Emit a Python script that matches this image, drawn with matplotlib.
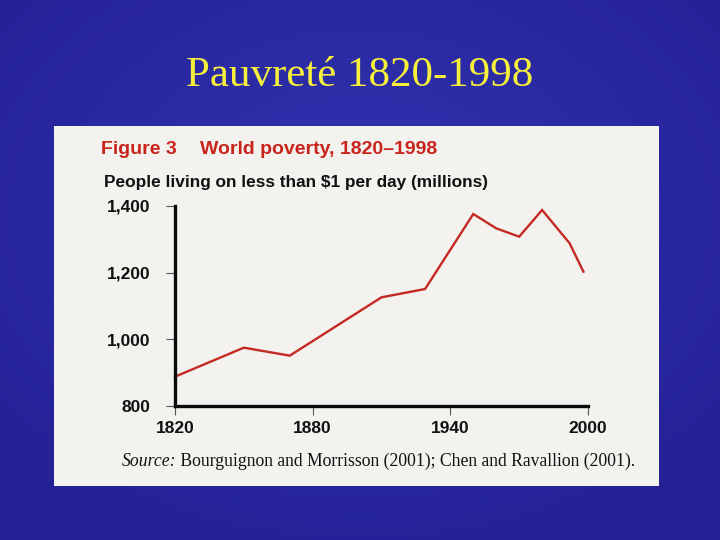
import numpy as np
import matplotlib
matplotlib.use("Agg")
import matplotlib.pyplot as plt
from matplotlib.patches import Rectangle

# ---- data ----
years = [1820, 1850, 1870, 1910, 1929, 1950, 1960, 1970, 1980, 1992, 1998]
poor_millions = [888, 975, 951, 1126, 1151, 1376, 1333, 1308, 1388, 1288, 1203]
x_ticks = [1820, 1880, 1940, 2000]
y_ticks = [800, 1000, 1200, 1400]
y_ticklabels = ["800", "1,000", "1,200", "1,400"]

slide_title = "Pauvreté 1820-1998"
fig_label = "Figure 3"
fig_title = "World poverty, 1820\u20131998"
subtitle = "People living on less than $1 per day (millions)"
source_lead = "Source:"
source_rest = " Bourguignon and Morrisson (2001); Chen and Ravallion (2001)."

W, H = 720, 540
fig = plt.figure(figsize=(7.2, 5.4), dpi=100)

# ---- slide background (soft radial gradient) ----
bg = fig.add_axes([0, 0, 1, 1])
yy, xx = np.mgrid[0:1:270j, 0:1:360j]
r = np.sqrt(((xx - 0.5) / 0.7) ** 2 + ((yy - 0.4) / 0.7) ** 2)
r = np.clip(r, 0, 1)
c_in = np.array([0x32, 0x34, 0xb2]) / 255
c_out = np.array([0x24, 0x20, 0x95]) / 255
img = c_in[None, None, :] * (1 - r[..., None]) + c_out[None, None, :] * r[..., None]
bg.imshow(img, extent=[0, 1, 0, 1], aspect="auto", origin="upper")
bg.set_axis_off()

def fx(px):
    return px / W

def fy(py):
    return 1 - py / H

# ---- white panel (scanned figure) ----
fig.patches.append(Rectangle((fx(54), fy(486)), fx(659) - fx(54), fy(126) - fy(486),
                             transform=fig.transFigure, facecolor="#f3f2ef",
                             edgecolor="none", zorder=1))

# ---- slide title ----
fig.text(0.5, fy(76), slide_title, ha="center", va="center", color="#f7f03a",
         fontsize=31, family="Liberation Serif", zorder=5)

# ---- figure headings ----
red = "#c8241c"
fig.text(fx(101), fy(150), fig_label, ha="left", va="center", color=red,
         fontsize=14, fontweight="bold", family="Liberation Sans", zorder=5)
fig.text(fx(200), fy(150), fig_title, ha="left", va="center", color=red,
         fontsize=14, fontweight="bold", family="Liberation Sans", zorder=5)
fig.text(fx(104), fy(183), subtitle, ha="left", va="center", color="#111111",
         fontsize=12.4, fontweight="bold", family="Liberation Sans", zorder=5)

# ---- chart axes ----
ax = fig.add_axes([fx(175), fy(406), fx(588) - fx(175), fy(206) - fy(406)])
ax.set_zorder(3)
ax.patch.set_alpha(0)
ax.plot(years, poor_millions, color="#c42a22", lw=1.7, clip_on=False,
        solid_joinstyle="miter")
ax.set_xlim(1820, 2000)
ax.set_ylim(800, 1400)
for s in ["top", "right"]:
    ax.spines[s].set_visible(False)
for s in ["left", "bottom"]:
    ax.spines[s].set_linewidth(2.4)
    ax.spines[s].set_color("#0a0a0a")
    ax.spines[s].set_capstyle("projecting")
ax.set_xticks(x_ticks)
ax.set_xticklabels([str(v) for v in x_ticks])
ax.set_yticks(y_ticks)
ax.set_yticklabels(y_ticklabels)
ax.tick_params(axis="both", direction="out", length=6.5, width=0.8, color="#555555",
               labelsize=12.5, labelcolor="#111111")
ax.tick_params(axis="y", pad=11)
ax.tick_params(axis="x", pad=4)
for lab in ax.get_xticklabels() + ax.get_yticklabels():
    lab.set_fontweight("bold")
    lab.set_family("Liberation Sans")

# ---- source line ----
t1 = fig.text(fx(122), fy(461), source_lead, ha="left", va="center", color="#111111",
              fontsize=12.7, fontstyle="italic", family="Liberation Serif", zorder=5)
ax.annotate(source_rest, xy=(1, 0.5), xycoords=t1, ha="left", va="center",
            color="#111111", fontsize=12.7, family="Liberation Serif",
            annotation_clip=False)

fig.savefig("out.png", dpi=100)
